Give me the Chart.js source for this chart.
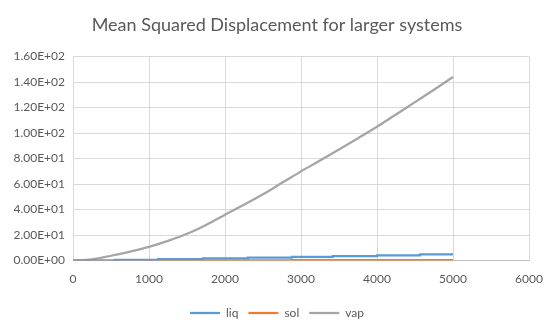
<!DOCTYPE html>
<html>
<head>
<meta charset="utf-8">
<script src="https://cdn.jsdelivr.net/npm/chart.js@4/dist/chart.umd.min.js"></script>
<style>
  html, body { margin: 0; padding: 0; background: #fff; }
  #wrap { width: 550px; height: 331px; }
</style>
</head>
<body>
<div id="wrap"><canvas id="msdChart" width="550" height="331"></canvas></div>
<script>
// values
const vapSteps = [0, 250, 500, 750, 1000, 1250, 1500, 1750, 2000, 2250, 2500, 2750, 3000, 3250, 3500, 3750, 4000, 4250, 4500, 4750, 5000];
const vapMsd = [0, 1, 3.8, 7, 10.8, 15.5, 21, 28, 36, 43.8, 52, 61, 70, 78.5, 87.2, 96, 105, 114.6, 124.3, 134, 144];

const liqSteps = [0, 550, 1120, 1710, 2300, 2880, 3420, 4000, 4565, 5000];
const liqMsd = [0, 0.5, 1.1, 1.7, 2.3, 2.9, 3.5, 4.1, 4.9, 4.9];

const solSteps = [0, 550, 1120, 1710, 2300, 2880, 3420, 4000, 4565, 5000];
const solMsd = [0, 0.2, 0.2, 0.25, 0.25, 0.3, 0.3, 0.3, 0.35, 0.35];

const xTicks = [0, 1000, 2000, 3000, 4000, 5000, 6000];
const yTicks = [0, 20, 40, 60, 80, 100, 120, 140, 160];

function toPoints(xs, ys) {
  return xs.map(function (x, i) { return { x: x, y: ys[i] }; });
}

function sci(v) {
  if (v === 0) return "0.00E+00";
  const exp = Math.floor(Math.log10(Math.abs(v)));
  const mant = v / Math.pow(10, exp);
  const e = (exp < 0 ? "-" : "+") + String(Math.abs(exp)).padStart(2, "0");
  return mant.toFixed(2) + "E" + e;
}

Chart.defaults.font.family = "Lato, 'Open Sans', sans-serif";
Chart.defaults.color = "#595959";

new Chart(document.getElementById("msdChart").getContext("2d"), {
  type: "line",
  data: {
    datasets: [
      {
        label: "liq",
        data: toPoints(liqSteps, liqMsd),
        borderColor: "#5b9bd5",
        backgroundColor: "#5b9bd5",
        borderWidth: 2.25,
        stepped: true,
        pointRadius: 0,
        fill: false,
      },
      {
        label: "sol",
        data: toPoints(solSteps, solMsd),
        borderColor: "#ed7d31",
        backgroundColor: "#ed7d31",
        borderWidth: 2.25,
        stepped: true,
        pointRadius: 0,
        fill: false,
      },
      {
        label: "vap",
        data: toPoints(vapSteps, vapMsd),
        borderColor: "#a5a5a5",
        backgroundColor: "#a5a5a5",
        borderWidth: 2.25,
        cubicInterpolationMode: "monotone",
        pointRadius: 0,
        fill: false,
      },
    ],
  },
  options: {
    responsive: false,
    animation: false,
    layout: { padding: { left: 4, right: 0, top: 8, bottom: 2 } },
    plugins: {
      title: {
        display: true,
        text: "Mean Squared Displacement for larger systems",
        font: { size: 18, weight: "normal" },
        color: "#595959",
        padding: { top: 6, bottom: 21 },
      },
      legend: {
        position: "bottom",
        labels: {
          usePointStyle: true,
          pointStyle: "line",
          pointStyleWidth: 30,
          boxHeight: 2,
          font: { size: 12 },
          padding: 10,
        },
      },
      tooltip: { enabled: false },
    },
    scales: {
      x: {
        type: "linear",
        min: 0,
        max: 6000,
        afterBuildTicks: function (axis) {
          axis.ticks = xTicks.map(function (v) { return { value: v }; });
        },
        afterFit: function (axis) { axis.paddingRight = 21; },
        ticks: {
          font: { size: 12 },
          color: "#595959",
          maxRotation: 0,
          padding: 11,
          callback: function (v) { return String(v); },
        },
        grid: { color: "#d9d9d9", drawTicks: false },
        border: { color: "#bfbfbf" },
      },
      y: {
        min: 0,
        max: 160,
        afterBuildTicks: function (axis) {
          axis.ticks = yTicks.map(function (v) { return { value: v }; });
        },
        afterFit: function (axis) { axis.width = 69; },
        ticks: {
          font: { size: 12 },
          color: "#595959",
          padding: 8,
          callback: function (v) { return sci(v); },
        },
        grid: { color: "#d9d9d9", drawTicks: false },
        border: { color: "#d9d9d9" },
      },
    },
  },
});
</script>
</body>
</html>
